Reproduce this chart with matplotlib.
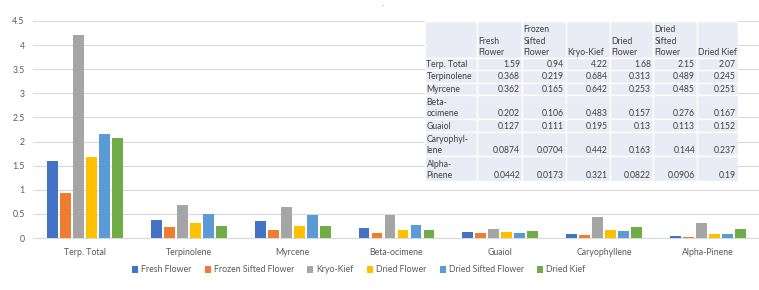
import matplotlib
matplotlib.use("Agg")
import matplotlib.pyplot as plt
from matplotlib.patches import Rectangle
import numpy as np

plt.rcParams['font.family'] = ['Lato', 'DejaVu Sans']

categories = ["Terp. Total", "Terpinolene", "Myrcene", "Beta-ocimene", "Guaiol", "Caryophyllene", "Alpha-Pinene"]
table_row_labels = ["Terp. Total", "Terpinolene", "Myrcene", "Beta-\nocimene", "Guaiol", "Caryophyl-\nlene", "Alpha-\nPinene"]
series_names = ["Fresh Flower", "Frozen Sifted Flower", "Kryo-Kief", "Dried Flower", "Dried Sifted Flower", "Dried Kief"]
table_headers = ["Fresh\nFlower", "Frozen\nSifted\nFlower", "Kryo-Kief", "Dried\nFlower", "Dried\nSifted\nFlower", "Dried Kief"]

fresh_flower = [1.59, 0.368, 0.362, 0.202, 0.127, 0.0874, 0.0442]
frozen_sifted_flower = [0.94, 0.219, 0.165, 0.106, 0.111, 0.0704, 0.0173]
kryo_kief = [4.22, 0.684, 0.642, 0.483, 0.195, 0.442, 0.321]
dried_flower = [1.68, 0.313, 0.253, 0.157, 0.13, 0.163, 0.0822]
dried_sifted_flower = [2.15, 0.489, 0.485, 0.276, 0.113, 0.144, 0.0906]
dried_kief = [2.07, 0.245, 0.251, 0.167, 0.152, 0.237, 0.19]

series = [fresh_flower, frozen_sifted_flower, kryo_kief, dried_flower, dried_sifted_flower, dried_kief]
colors = ["#4472C4", "#ED7D31", "#A5A5A5", "#FFC000", "#5B9BD5", "#70AD47"]

W, H = 759, 290
fig = plt.figure(figsize=(W / 100, H / 100), dpi=100)
ax = fig.add_axes([33 / W, (H - 238) / H, (760 - 33) / W, (238 - 21) / H])

x = np.arange(len(categories))
step = 0.125
bw = 0.105
for i, (vals, c, name) in enumerate(zip(series, colors, series_names)):
    ax.bar(x + (i - 2.5) * step, vals, width=bw, color=c, label=name, zorder=3)

ax.set_xlim(-0.5, len(categories) - 0.5)
ax.set_ylim(0, 4.5)
ax.set_yticks(np.arange(0, 4.51, 0.5))
ax.set_yticklabels(["0", "0.5", "1", "1.5", "2", "2.5", "3", "3.5", "4", "4.5"])
ax.set_xticks(x)
ax.set_xticklabels(categories)
ax.grid(axis='y', color='#D9D9D9', linewidth=0.8, zorder=0)
for s in ['top', 'right', 'left']:
    ax.spines[s].set_visible(False)
ax.spines['bottom'].set_color('#D9D9D9')
ax.tick_params(axis='both', length=0, colors='#595959', labelsize=6.3)
ax.tick_params(axis='y', pad=6)
ax.tick_params(axis='x', pad=7)

leg = fig.legend(loc='center left', bbox_to_anchor=(124 / W, 20 / H), ncol=6, frameon=False,
                 fontsize=6.3, handlelength=0.7, handleheight=0.7, handletextpad=0.35,
                 columnspacing=1.5, labelcolor='#595959')

fig.text(383 / W, 1 - 6 / H, "-", fontsize=5, color='#A0A0A0', ha='center', va='center')

# Data table
tx0, tx1 = 425, 738
ty0, ty1 = 21, 181
tax = fig.add_axes([tx0 / W, (H - ty1) / H, (tx1 - tx0) / W, (ty1 - ty0) / H])
tax.axis('off')
col_w = [52, 45, 44, 44, 43, 44, 41]
col_x = np.concatenate([[0], np.cumsum(col_w)])
row_lines = [3] + [lbl.count("\n") + 1 for lbl in table_row_labels]
row_y = np.concatenate([[0], np.cumsum(row_lines)])
tax.set_xlim(0, col_x[-1])
tax.set_ylim(row_y[-1], 0)
bg = '#E9EBF5'
tc = '#404040'
fs = 6.2
for r in range(len(row_lines)):
    for cidx in range(len(col_w)):
        tax.add_patch(Rectangle((col_x[cidx], row_y[r]), col_w[cidx], row_lines[r],
                                facecolor=bg, edgecolor='white', linewidth=1.0))
# header
for j, h in enumerate(table_headers):
    tax.text(col_x[j + 1] + 1.5, row_y[1] - 0.1, h, fontsize=fs, color=tc,
             ha='left', va='bottom', linespacing=1.3)
for r, lbl in enumerate(table_row_labels):
    yb = row_y[r + 2] - 0.1
    tax.text(col_x[0] + 1.5, yb, lbl, fontsize=fs, color=tc, ha='left', va='bottom', linespacing=1.3)
    for j, vals in enumerate(series):
        tax.text(col_x[j + 2] - 2, yb, f"{vals[r]:g}", fontsize=fs, color=tc, ha='right', va='bottom')

fig.savefig("out.png", dpi=100, facecolor='white')
